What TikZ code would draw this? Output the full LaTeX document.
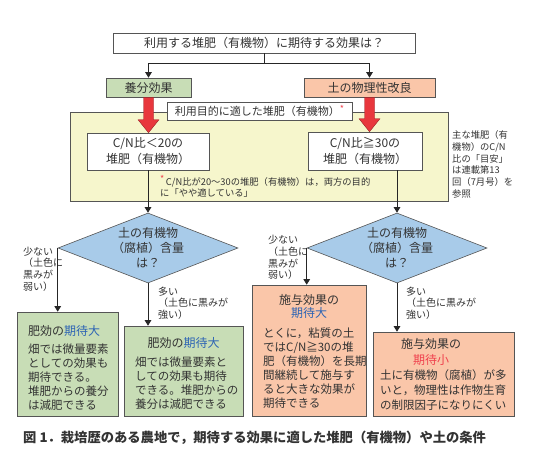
\documentclass[tikz,border=0pt]{standalone}
\usepackage{fontspec}
\setmainfont{Noto Sans CJK JP}
\usetikzlibrary{shapes.geometric,arrows.meta,calc,shadows}
\definecolor{linegray}{HTML}{555555}
\definecolor{txtgray}{HTML}{333333}
\definecolor{boxgreen}{HTML}{C8DDB6}
\definecolor{boxpink}{HTML}{FAC6A9}
\definecolor{boxyellow}{HTML}{F6F6CC}
\definecolor{diablue}{HTML}{A8CBE9}
\definecolor{arrowred}{HTML}{E8373D}
\definecolor{txtblue}{HTML}{2D64B4}
\definecolor{txtred}{HTML}{F0424E}
\newcommand{\redarrow}[2]{\filldraw[fill=arrowred, draw=arrowred!65!black, line width=0.4pt]
  ($(#1)+(-5,0)$) -- ($(#2)+(-5,-13)$) -- ($(#2)+(-10.5,-13)$) -- (#2)
  -- ($(#2)+(10.5,-13)$) -- ($(#2)+(5,-13)$) -- ($(#1)+(5,0)$) -- cycle;}
\newcommand{\notemark}{\raisebox{2.5pt}{\fontsize{9}{9}\selectfont\color{txtred}*}}
\tikzset{
  box/.style={draw=linegray, line width=0.6pt, inner sep=0pt,
    drop shadow={shadow xshift=1.2pt, shadow yshift=-1.2pt, fill=black, opacity=.3}},
  lbl/.style={font=\fontsize{12}{15}\selectfont, align=center},
  body/.style={font=\fontsize{11.5}{14}\selectfont, align=left},
  small/.style={font=\fontsize{10}{11.7}\selectfont, align=left},
  note/.style={font=\fontsize{9.3}{11.8}\selectfont, align=left},
  conn/.style={draw=black!85, line width=0.8pt, -{Triangle[width=6.5pt,length=5.5pt]}},
  askbox/.style={diamond, draw=linegray, line width=0.6pt, fill=diablue, aspect=2.57,
    minimum width=180pt, minimum height=70pt, inner sep=0pt, lbl}
}
\begin{document}
\begin{tikzpicture}[x=1pt, y=-1pt, every node/.style={text=txtgray, inner sep=0pt}]
  \path[use as bounding box, fill=white] (0,0) rectangle (540,458);
  \node[box, fill=white, lbl, minimum width=302pt, minimum height=20pt] (top) at (264,43) {利用する堆肥（有機物）に期待する効果は？};
  \node[box, fill=boxgreen, lbl, minimum width=85pt, minimum height=19pt] (nut) at (148.5,87.5) {養分効果};
  \node[box, fill=boxpink, lbl, minimum width=131pt, minimum height=19pt] (phys) at (369.5,87.5) {土の物理性改良};
  \node[box, fill=boxyellow, minimum width=378pt, minimum height=89pt] (purpose) at (259,156.5) {};
  \node[box, fill=white, font=\fontsize{11}{13}\selectfont, minimum width=185pt, minimum height=18pt] (tag) at (259.5,111) {利用目的に適した堆肥（有機物）\notemark};
  \node[box, fill=white, lbl, text width=122pt, minimum height=37pt, font=\fontsize{12}{16}\selectfont] (cnlow) at (148,151.5) {C/N比＜20の\\堆肥（有機物）};
  \node[box, fill=white, lbl, text width=114pt, minimum height=38pt, font=\fontsize{12}{16}\selectfont] (cnhigh) at (365,151) {C/N比≧30の\\堆肥（有機物）};
  \coordinate (tipL) at (nut.south |- cnlow.north);
  \coordinate (tipR) at (phys.south |- cnhigh.north);
  \redarrow{nut.south}{tipL}
  \redarrow{phys.south}{tipR}
  \node[note, anchor=west, font=\fontsize{9.3}{11.5}\selectfont] (foot) at (160,186.5) {\notemark\,C/N比が20～30の堆肥（有機物）は，両方の目的\\に「やや適している」};
  \node[note, anchor=west] (guide) at (452,164.5) {主な堆肥（有\\機物）のC/N\\比の「目安」\\は連載第13\\回（7月号）を\\参照};
  \node[askbox] (dL) at (148,248) {土の有機物\\（腐植）含量\\は？};
  \node[askbox] (dR) at (397,248) {土の有機物\\（腐植）含量\\は？};
  \node[small, anchor=west] (lowL) at (23,269) {少ない\\（土色に\\黒みが\\弱い）};
  \node[small, anchor=west] (highL) at (158,303) {多い\\（土色に黒みが\\強い）};
  \node[small, anchor=west] (lowR) at (268,257.5) {少ない\\（土色に\\黒みが\\弱い）};
  \node[small, anchor=west] (highR) at (406,303) {多い\\（土色に黒みが\\強い）};
  \node[box, fill=boxgreen, minimum width=101pt, minimum height=104pt] (LL) at (67.5,364) {};
  \node[lbl, anchor=west] (LLhead) at (28,331) {肥効の{\color{txtblue}期待大}};
  \node[body, anchor=west] (LLbody) at (28,377.5) {畑では微量要素\\としての効果も\\期待できる。\\堆肥からの養分\\は減肥できる};
  \node[box, fill=boxgreen, minimum width=119pt, minimum height=90pt] (LR) at (183.5,371) {};
  \node[lbl] (LRhead) at (183.5,343) {肥効の{\color{txtblue}期待大}};
  \node[body, anchor=west] (LRbody) at (135,383.5) {畑では微量要素と\\しての効果も期待\\できる。堆肥からの\\養分は減肥できる};
  \node[box, fill=boxpink, minimum width=114pt, minimum height=131pt] (RL) at (309,350.5) {};
  \node[lbl, font=\fontsize{12}{13.5}\selectfont] (RLhead) at (309,306.5) {施与効果の\\{\color{txtblue}期待大}};
  \node[body, anchor=west] (RLbody) at (263,368) {とくに，粘質の土\\ではC/N≧30の堆\\肥（有機物）を長期\\間継続して施与す\\ると大きな効果が\\期待できる};
  \node[box, fill=boxpink, minimum width=141pt, minimum height=84pt] (RR) at (443.5,374) {};
  \node[lbl, font=\fontsize{12}{16}\selectfont] (RRhead) at (431,352) {施与効果の\\{\color{txtred}期待小}};
  \node[body, anchor=west, font=\fontsize{11.5}{15}\selectfont] (RRbody) at (380,390) {土に有機物（腐植）が多\\いと，物理性は作物生育\\の制限因子になりにくい};
  \node[anchor=west, font=\fontsize{13.3}{15}\selectfont\bfseries] (caption) at (23,438) {図 1．栽培歴のある農地で，期待する効果に適した堆肥（有機物）や土の条件};
  \coordinate (split) at (top.south |- 0,63);
  \draw[draw=black!85, line width=0.8pt] (top.south) -- (split);
  \draw[conn] (split) -| (nut.north);
  \draw[conn] (split) -| (phys.north);
  \draw[conn] (cnlow.south) -- (dL.north);
  \draw[conn] (dR.north |- cnhigh.south) -- (dR.north);
  \draw[conn] (dL.west) -- (dL.west |- LL.north);
  \draw[conn] (dL.south) -- (dL.south |- LR.north);
  \draw[conn] (dR.west) -- (dR.west |- RL.north);
  \draw[conn] (dR.south) -- (dR.south |- RR.north);
\end{tikzpicture}
\end{document}
